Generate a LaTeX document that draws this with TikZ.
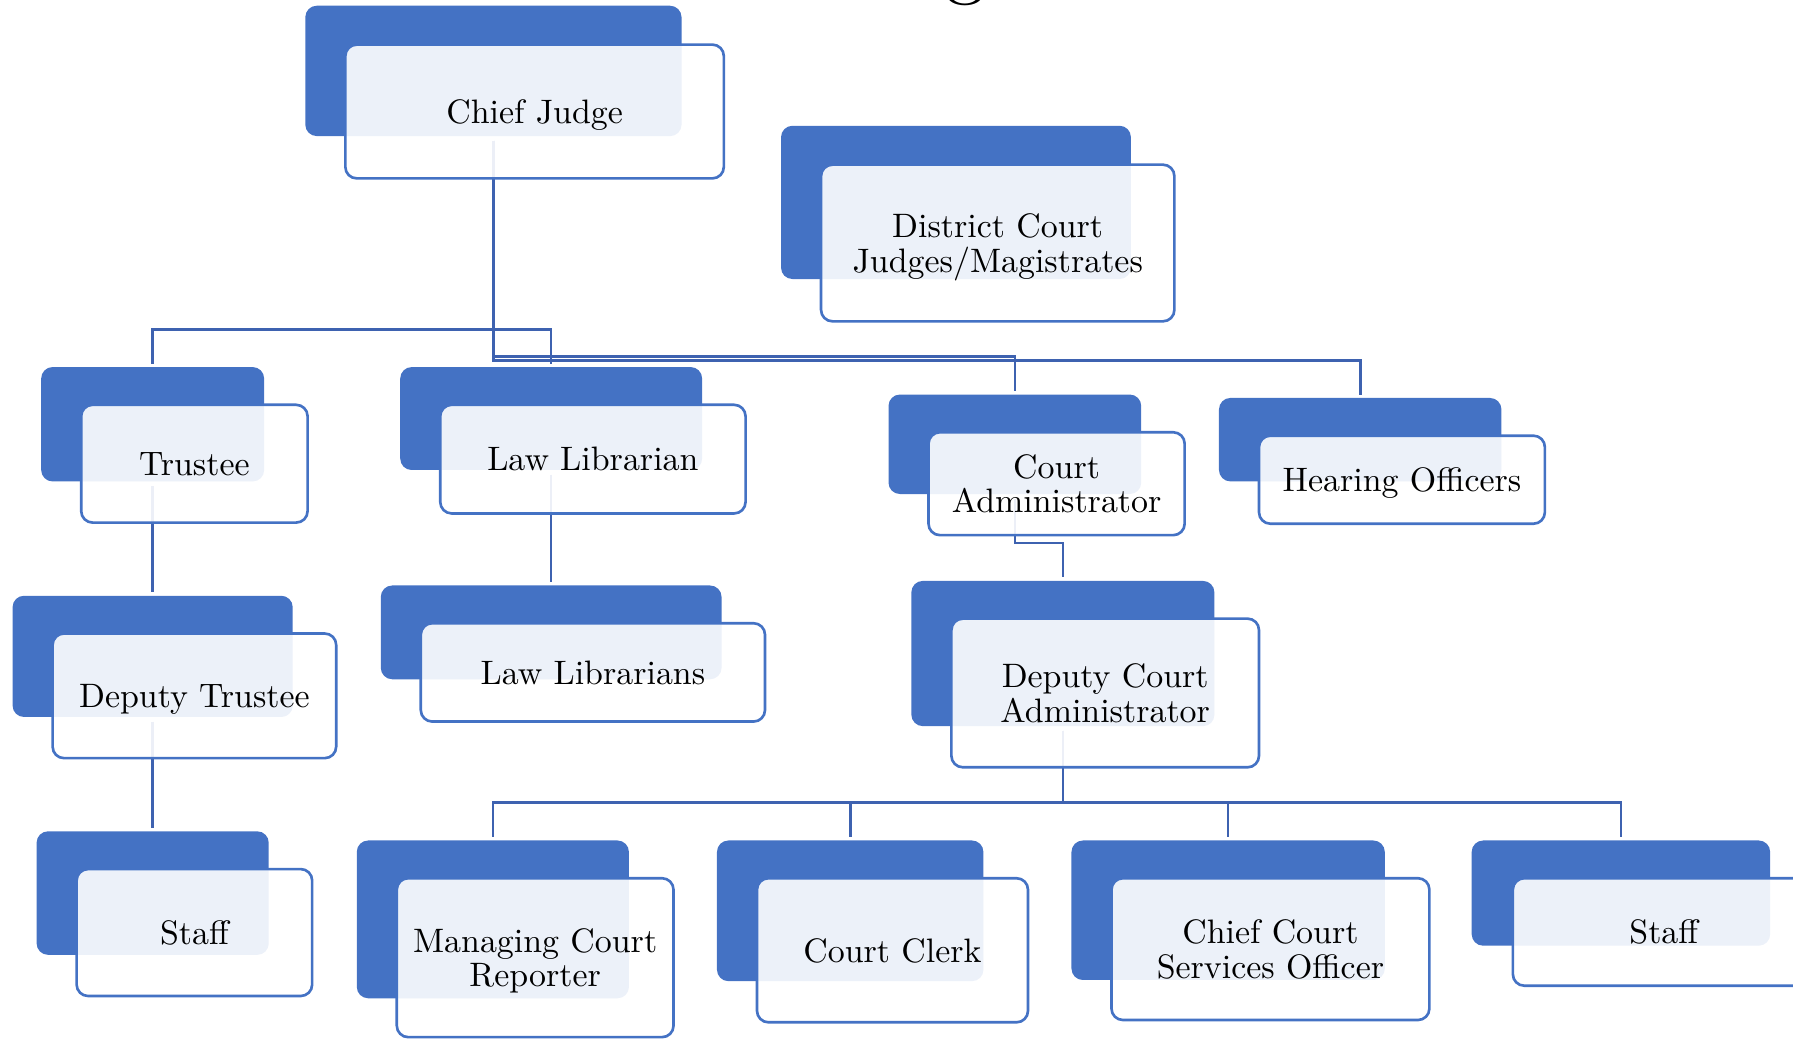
\documentclass[tikz,border=0pt]{standalone}
\usepackage{fontspec}
\setmainfont{lmroman10-regular.otf}
\usetikzlibrary{calc}
\newlength\pxu
\setlength\pxu{0.02287cm}
\definecolor{bblue}{RGB}{68,114,196}
\definecolor{cblue}{RGB}{62,98,176}
\tikzset{
  backbox/.style={fill=bblue, draw=none, rounded corners=6.5pt, inner sep=0pt, outer sep=0pt},
  frontbox/.style={fill=white, fill opacity=0.9, text opacity=1, draw=bblue, line width=1.5pt,
     rounded corners=6.5pt, inner sep=0pt, outer sep=0pt, align=center,
     font=\fontsize{19.3}{19.6}\selectfont},
  conn/.style={draw=cblue, line width=1.5pt, shorten <=4\pxu, shorten >=3\pxu},
}
\newcommand\bkbox[5]{\node[backbox, minimum width=#4\pxu, minimum height=#5\pxu] (#1) at (#2,#3) {};}
\newcommand\frbox[6]{\node[frontbox, minimum width=#4\pxu, minimum height=#5\pxu, text depth=0pt] (#1) at (#2,#3) {#6};}
\begin{document}
\begin{tikzpicture}[x=0.02287cm, y=-0.02287cm]
\useasboundingbox (0,0) rectangle (1568,909);
\begin{scope}
\clip (0,0) rectangle (1568,909);
% title fragment
\node[anchor=base, inner sep=0pt] (title) at (844,-9) {\fontsize{45}{50}\selectfont g};
% back boxes
\bkbox{CJb}{431.5}{62}{329}{114}
\bkbox{DCb}{836}{177}{306}{134}
\bkbox{TRb}{133.5}{371}{195}{100}
\bkbox{LLb}{482}{366}{264}{90}
\bkbox{CAb}{887.5}{388.5}{221}{87}
\bkbox{HOb}{1189.5}{384.5}{247}{73}
\bkbox{DTb}{133.5}{574}{245}{106}
\bkbox{LSb}{482}{553}{298}{82}
\bkbox{DCAb}{929.5}{571.5}{265}{127}
\bkbox{STAb}{133.5}{781}{203}{108}
\bkbox{MCRb}{431}{804}{238}{138}
\bkbox{CCb}{743.5}{796.5}{233}{123}
\bkbox{CSOb}{1074}{796}{274}{122}
\bkbox{STBb}{1417.5}{781}{261}{92}
% connectors
\draw[conn] (CJb.south) -- (CJb.south |- 0,288) -| (TRb.north);
\draw[conn] (CJb.south) -- (CJb.south |- 0,288) -| (LLb.north);
\draw[conn] (CJb.south) -- (CJb.south |- 0,312) -| (CAb.north);
\draw[conn] (CJb.south) -- (CJb.south |- 0,315) -| (HOb.north);
\draw[conn] (TRb.south) -- (DTb.north);
\draw[conn] (DTb.south) -- (STAb.north);
\draw[conn] (LLb.south) -- (LSb.north);
\draw[conn] (CAb.south) -- (CAb.south |- 0,475) -| (DCAb.north);
\draw[conn] (DCAb.south) -- (DCAb.south |- 0,702) -| (MCRb.north);
\draw[conn] (DCAb.south) -- (DCAb.south |- 0,702) -| (CCb.north);
\draw[conn] (DCAb.south) -- (DCAb.south |- 0,702) -| (CSOb.north);
\draw[conn] (DCAb.south) -- (DCAb.south |- 0,702) -| (STBb.north);
% front boxes
\frbox{CJ}{467.5}{97.5}{331}{117}{Chief Judge}
\frbox{DC}{872.5}{212.5}{309}{137}{District Court\\Judges/Magistrates}
\frbox{TR}{170}{405.5}{198}{103}{Trustee}
\frbox{LL}{518.5}{401.5}{267}{95}{Law Librarian}
\frbox{CA}{924}{423}{224}{90}{Court\\Administrator}
\frbox{HO}{1226}{419.5}{250}{77}{Hearing Officers}
\frbox{DT}{170}{608.5}{248}{109}{Deputy Trustee}
\frbox{LS}{518.5}{588}{301}{86}{Law Librarians}
\frbox{DCA}{966.5}{606}{269}{130}{Deputy Court\\Administrator}
\frbox{STA}{170}{815.5}{206}{111}{Staff}
\frbox{MCR}{468}{837.5}{242}{139}{Managing Court\\Reporter}
\frbox{CC}{780.5}{831}{237}{126}{Court Clerk}
\frbox{CSO}{1111}{830}{278}{124}{Chief Court\\Services Officer}
\frbox{STB}{1455}{815}{264}{94}{Staff}
\end{scope}
\end{tikzpicture}
\end{document}
